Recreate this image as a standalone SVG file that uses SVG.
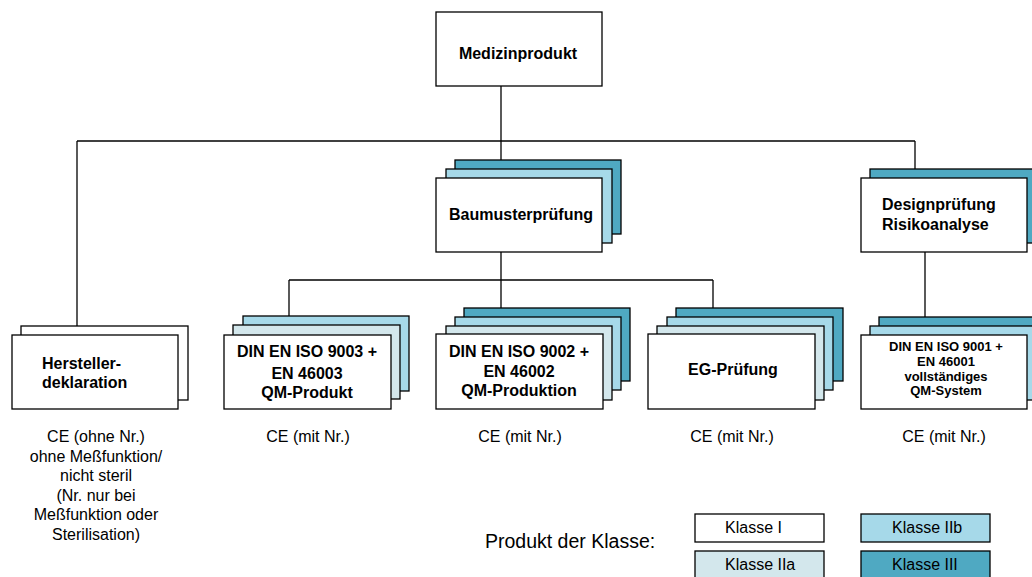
<svg xmlns="http://www.w3.org/2000/svg" width="1032" height="577" viewBox="0 0 1032 577">
<style>
.b{stroke:#000;stroke-width:1.3}
.w{fill:#fff}
.p{fill:#d3e7ec}
.l{fill:#a6d9e9}
.t{fill:#4fa9c2}
.h{font-family:"Liberation Sans",Arial,sans-serif;font-weight:bold;font-size:16px;fill:#000}
.s{font-family:"Liberation Sans",Arial,sans-serif;font-weight:bold;font-size:13px;fill:#000}
.n{font-family:"Liberation Sans",Arial,sans-serif;font-size:16px;fill:#000}
.c{text-anchor:middle}
line{stroke:#000;stroke-width:1.3}
</style>
<g id="connectors">
<line x1="501" y1="86" x2="501" y2="160"/>
<line x1="77" y1="141" x2="915" y2="141"/>
<line x1="77" y1="141" x2="77" y2="326"/>
<line x1="915" y1="141" x2="915" y2="169"/>
<line x1="501" y1="252" x2="501" y2="308"/>
<line x1="289" y1="280" x2="713" y2="280"/>
<line x1="289" y1="280" x2="289" y2="316"/>
<line x1="713" y1="280" x2="713" y2="308"/>
<line x1="925" y1="252" x2="925" y2="318"/>
</g>
<g id="medizinprodukt">
<rect class="b w" x="436" y="12" width="166" height="74"/>
<text class="h c" x="518" y="59">Medizinprodukt</text>
</g>
<g id="baumusterpruefung">
<rect class="b t" x="455" y="160" width="166" height="74"/>
<rect class="b l" x="446" y="169" width="166" height="74"/>
<rect class="b w" x="436" y="178" width="166" height="74"/>
<text class="h c" x="521" y="220">Baumusterprüfung</text>
</g>
<g id="designpruefung">
<rect class="b t" x="870" y="169" width="180" height="74"/>
<rect class="b w" x="861" y="178" width="166" height="74"/>
<text class="h" x="882" y="210">Designprüfung</text>
<text class="h" x="882" y="230">Risikoanalyse</text>
</g>
<g id="herstellerdeklaration">
<rect class="b w" x="21" y="326" width="167" height="74"/>
<rect class="b w" x="12" y="335" width="166" height="74"/>
<text class="h" x="42" y="369">Hersteller-</text>
<text class="h" x="42" y="388">deklaration</text>
</g>
<g id="iso9003">
<rect class="b l" x="243" y="316" width="166" height="75"/>
<rect class="b p" x="233" y="325" width="167" height="74"/>
<rect class="b w" x="224" y="335" width="167" height="74"/>
<text class="h c" x="307" y="357">DIN EN ISO 9003 +</text>
<text class="h c" x="307" y="379">EN 46003</text>
<text class="h c" x="307" y="398">QM-Produkt</text>
</g>
<g id="iso9002">
<rect class="b t" x="464" y="308" width="166" height="73"/>
<rect class="b l" x="455" y="317" width="166" height="73"/>
<rect class="b p" x="446" y="326" width="166" height="74"/>
<rect class="b w" x="436" y="334" width="167" height="75"/>
<text class="h c" x="519" y="357">DIN EN ISO 9002 +</text>
<text class="h c" x="519" y="377">EN 46002</text>
<text class="h c" x="519" y="396">QM-Produktion</text>
</g>
<g id="egpruefung">
<rect class="b t" x="676" y="308" width="167" height="73"/>
<rect class="b l" x="667" y="317" width="166" height="73"/>
<rect class="b p" x="657" y="326" width="167" height="74"/>
<rect class="b w" x="648" y="334" width="167" height="75"/>
<text class="h c" x="733" y="375">EG-Prüfung</text>
</g>
<g id="iso9001">
<rect class="b t" x="879" y="317" width="180" height="74"/>
<rect class="b l" x="870" y="326" width="180" height="74"/>
<rect class="b w" x="861" y="335" width="166" height="74"/>
<text class="s c" x="946" y="351">DIN EN ISO 9001 +</text>
<text class="s c" x="946" y="366">EN 46001</text>
<text class="s c" x="946" y="381">vollständiges</text>
<text class="s c" x="946" y="395">QM-System</text>
</g>
<g id="ce-labels">
<text class="n c" x="96" y="442">CE (ohne Nr.)</text>
<text class="n c" x="96" y="461.5">ohne Meßfunktion/</text>
<text class="n c" x="96" y="481">nicht steril</text>
<text class="n c" x="96" y="500.5">(Nr. nur bei</text>
<text class="n c" x="96" y="520">Meßfunktion oder</text>
<text class="n c" x="96" y="539.5">Sterilisation)</text>
<text class="n c" x="308" y="442">CE (mit Nr.)</text>
<text class="n c" x="520" y="442">CE (mit Nr.)</text>
<text class="n c" x="732" y="442">CE (mit Nr.)</text>
<text class="n c" x="944" y="442">CE (mit Nr.)</text>
</g>
<g id="legend">
<text class="n" x="485" y="548" style="font-size:19.5px">Produkt der Klasse:</text>
<rect class="b w" x="695" y="514" width="129" height="28"/>
<text class="n" x="725" y="533">Klasse I</text>
<rect class="b l" x="861" y="514" width="129" height="28"/>
<text class="n" x="892" y="533">Klasse IIb</text>
<rect class="b p" x="695" y="551" width="129" height="30"/>
<text class="n" x="725" y="570">Klasse IIa</text>
<rect class="b t" x="861" y="551" width="129" height="30"/>
<text class="n" x="892" y="570">Klasse III</text>
</g>
</svg>
